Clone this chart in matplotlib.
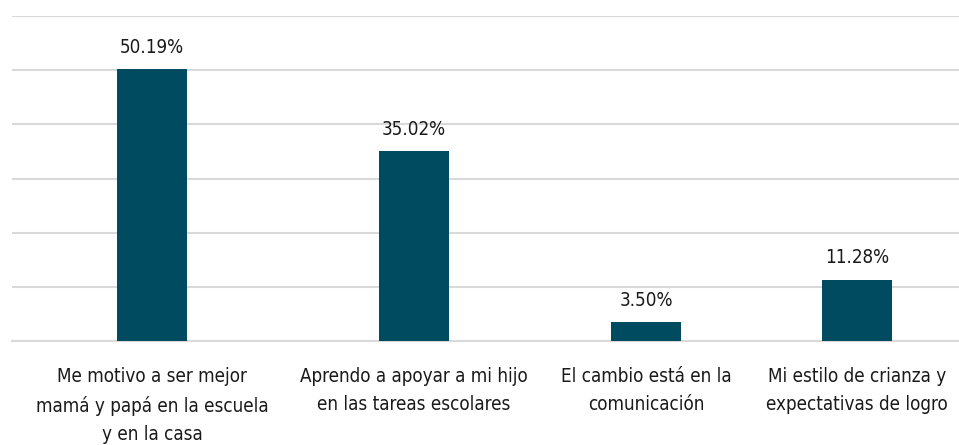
import matplotlib
matplotlib.use("Agg")
import matplotlib.pyplot as plt

categories = [
    "Me motivo a ser mejor\nmamá y papá en la escuela\ny en la casa",
    "Aprendo a apoyar a mi hijo\nen las tareas escolares",
    "El cambio está en la\ncomunicación",
    "Mi estilo de crianza y\nexpectativas de logro",
]
values = [50.19, 35.02, 3.50, 11.28]
value_labels = ["50.19%", "35.02%", "3.50%", "11.28%"]
yticks = [0, 10, 20, 30, 40, 50, 60]

# layout (pixel-like horizontal positions)
positions = [152, 414, 646, 857]

plt.rcParams["font.family"] = ["DejaVu Sans"]
plt.rcParams["font.stretch"] = "condensed"

fig = plt.figure(figsize=(9.59, 4.45), dpi=100)
ax = fig.add_axes([12 / 959, 104 / 445, 947 / 959, (429 - 104) / 445])

color = "#014b60"
ax.bar(positions, values, width=70, color=color, zorder=3)
ax.set_xlim(12, 959)
ax.set_ylim(0, 60)
ax.set_yticks(yticks)
ax.yaxis.grid(True, color="#d9d9d9", linewidth=1.5, zorder=0)
ax.tick_params(axis="y", left=False, labelleft=False)
ax.tick_params(axis="x", bottom=False, pad=15)
ax.set_xticks(positions)
ax.set_xticklabels(categories, fontsize=13.5, color="#1a1a1a", linespacing=1.62,
                   fontstretch="condensed")
for s in ["top", "right", "left"]:
    ax.spines[s].set_visible(False)
ax.spines["bottom"].set_color("#d9d9d9")
ax.spines["bottom"].set_linewidth(1.5)

for x, v, t in zip(positions, values, value_labels):
    ax.annotate(t, (x, v), xytext=(0, 9), textcoords="offset points",
                ha="center", va="bottom", fontsize=13.5, color="#1a1a1a",
                fontstretch="condensed")

fig.savefig("out.png", dpi=100)
